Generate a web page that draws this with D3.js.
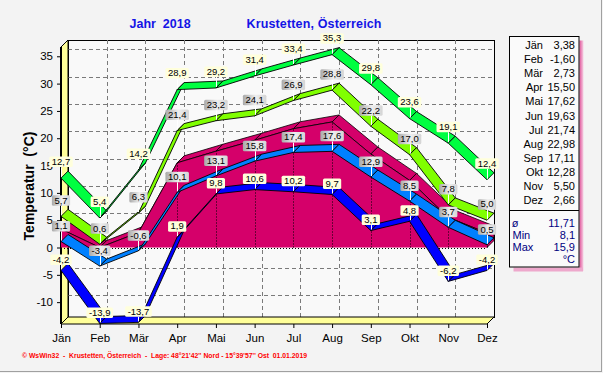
<!DOCTYPE html>
<html><head><meta charset="utf-8">
<script src="https://cdn.jsdelivr.net/npm/d3@7"></script>
<style>
body{margin:0;background:#f3f3f3}
svg{display:block;font-family:"Liberation Sans",Arial,sans-serif}
</style>
</head><body><svg id="c" width="603" height="373"></svg>
<script>
const months = ["Jän","Feb","Mär","Apr","Mai","Jun","Jul","Aug","Sep","Okt","Nov","Dez"];
const maxTemp  = [12.7,5.4,14.2,28.9,29.2,31.4,33.4,35.3,29.8,23.6,19.1,12.4];
const meanMax  = [5.7,0.6,6.3,21.4,23.2,24.1,26.9,28.8,22.2,17.0,7.8,5.0];
const meanTemp = [3.38,-1.60,2.73,15.50,17.62,19.63,21.74,22.98,17.11,12.28,5.50,2.66];
const meanMin  = [1.1,-3.4,-0.6,10.1,13.1,15.8,17.4,17.6,12.9,8.5,3.7,0.5];
const minTemp  = [-4.2,-13.9,-13.7,1.9,9.8,10.6,10.2,9.7,3.1,4.8,-6.2,-4.2];
const yTicks = [-10,-5,0,5,10,15,20,25,30,35];
const summaryLabels = ["ø","Min","Max"];
const summaryValues = ["11,71","8,1","15,9"];
const unitLabel = "°C";
const titleYear = "Jahr  2018";
const titlePlace = "Krustetten, Österreich";
const yTitle = "Temperatur  (°C)";
const footer = "© WsWin32  -  Krustetten, Österreich  -  Lage: 48°21'42'' Nord - 15°39'57'' Ost  01.01.2019";

const svg = d3.select("#c");
const DX = 7, DY = -7;
const X0 = 61, X1 = 487, YB = 324, YT = 47;
const x = d3.scalePoint().domain(months).range([X0, X1]);
const y = d3.scaleLinear().domain([-14, 36.7]).range([YB, YT]);
const fmt1 = v => v.toFixed(1).replace(".", ",");
const fmt2 = v => v.toFixed(2).replace(".", ",");

const defs = svg.append("defs");
const g1 = defs.append("linearGradient").attr("id","grayLab").attr("x1","0").attr("x2","1").attr("y1","0").attr("y2","0");
g1.append("stop").attr("offset","0").attr("stop-color","#a9a9a9");
g1.append("stop").attr("offset","0.55").attr("stop-color","#eeeeee");
g1.append("stop").attr("offset","1").attr("stop-color","#d4d4d4");
const g2 = defs.append("linearGradient").attr("id","shadowR").attr("x1","0").attr("x2","1");
g2.append("stop").attr("offset","0").attr("stop-color","#e0559a");
g2.append("stop").attr("offset","1").attr("stop-color","#f6d0e4");

svg.append("rect").attr("width",603).attr("height",373).attr("fill","#f3f3f3");
svg.append("line").attr("x1",601.5).attr("x2",601.5).attr("y1",0).attr("y2",372).attr("stroke","#a0a0a0");
svg.append("line").attr("x1",0).attr("x2",602).attr("y1",371.5).attr("y2",371.5).attr("stroke","#a0a0a0");

// back wall
svg.append("rect").attr("x",X0+DX+0.5).attr("y",YT+DY+0.5).attr("width",X1-X0).attr("height",YB-YT)
  .attr("fill","#f9f9f9").attr("stroke","#000");
// grid
const grid = svg.append("g").attr("stroke","#7a7a7a").attr("stroke-dasharray","4,3").attr("stroke-width",1);
grid.selectAll("line.h").data(yTicks).join("line")
  .attr("x1",X0+DX).attr("x2",X1+DX).attr("y1",d=>Math.round(y(d)+DY)+0.5).attr("y2",d=>Math.round(y(d)+DY)+0.5);
grid.selectAll("line.v").data(months.slice(1,-1)).join("line")
  .attr("y1",YT+DY).attr("y2",YB+DY).attr("x1",d=>Math.round(x(d)+DX)+0.5).attr("x2",d=>Math.round(x(d)+DX)+0.5);

// left wall and floor
const wallFill = "#ffff99";
svg.append("polygon").attr("points",[[X0,YT],[X0+DX,YT+DY],[X0+DX,YB+DY],[X0,YB]].join(" "))
  .attr("fill",wallFill).attr("stroke","#000");
svg.append("polygon").attr("points",[[X0,YB],[X0+DX,YB+DY],[X1+DX,YB+DY],[X1,YB]].join(" "))
  .attr("fill",wallFill).attr("stroke","#000");
svg.append("line").attr("x1",X0).attr("x2",X0).attr("y1",YT).attr("y2",YB).attr("stroke","#000").attr("stroke-width",2);

// y axis
const yAxis = d3.axisLeft(y).tickValues(yTicks).tickSize(4).tickPadding(4).tickFormat(d=>d);
const ya = svg.append("g").attr("transform",`translate(${X0},0)`).call(yAxis);
ya.select(".domain").remove();
ya.selectAll("text").attr("font-size",11.5).attr("font-family","Liberation Sans, Arial").attr("fill","#000");
// x axis
const xAxis = d3.axisBottom(x).tickSize(4).tickPadding(6);
const xa = svg.append("g").attr("transform",`translate(0,${YB})`).call(xAxis);
xa.select(".domain").remove();
xa.selectAll("text").attr("font-size",11.5).attr("font-family","Liberation Sans, Arial").attr("fill","#000");

// mean area (3D)
const magenta = "#d5006a";
const mPts = months.map((m,i)=>[x(m), y(Math.max(0, meanTemp[i]))]);
const y0 = y(0);
const area = svg.append("g");
for (let i=0;i<mPts.length-1;i++){
  const a=mPts[i], b=mPts[i+1];
  area.append("polygon").attr("points",[a,b,[b[0]+DX,b[1]+DY],[a[0]+DX,a[1]+DY]].join(" "))
    .attr("fill",magenta).attr("stroke","#000").attr("stroke-width",0.8);
}
const last = mPts[mPts.length-1];
area.append("polygon").attr("points",[[last[0],y0],last,[last[0]+DX,last[1]+DY],[last[0]+DX,y0+DY]].join(" "))
  .attr("fill",magenta).attr("stroke","#000").attr("stroke-width",0.8);
area.append("path").attr("d", d3.area().x(d=>d[0]).y0(y0).y1(d=>d[1])(mPts)).attr("fill",magenta);
area.append("path").attr("d", d3.line()(mPts)).attr("fill","none").attr("stroke","#000").attr("stroke-width",0.8);
area.selectAll("line.dv").data(mPts.slice(1)).join("line")
  .attr("x1",d=>Math.round(d[0])+0.5).attr("x2",d=>Math.round(d[0])+0.5).attr("y1",y0).attr("y2",d=>d[1])
  .attr("stroke","#000").attr("stroke-dasharray","1,2");
area.append("line").attr("x1",X0).attr("x2",X1).attr("y1",Math.round(y0)+0.5).attr("y2",Math.round(y0)+0.5)
  .attr("stroke","#000").attr("stroke-dasharray","1,2");

// ribbons
function ribbon(vals, color){
  const g = svg.append("g");
  const pts = months.map((m,i)=>[x(m), y(vals[i])]);
  for (let i=0;i<pts.length-1;i++){
    const a=pts[i], b=pts[i+1];
    g.append("polygon").attr("points",[a,b,[b[0]+DX,b[1]+DY],[a[0]+DX,a[1]+DY]].join(" "))
      .attr("fill",color).attr("stroke","#000").attr("stroke-width",0.9).attr("stroke-linejoin","round");
  }
}
ribbon(minTemp, "#0000ff");
ribbon(meanMin, "#0080ff");
ribbon(meanMax, "#80ff00");
ribbon(maxTemp, "#00ff40");

// value labels
const labG = svg.append("g");
function labels(vals, fill, off){
  vals.forEach((v,i)=>{
    const cx = x(months[i]), py = y(v);
    const bottom = py - off, h = 10.5;
    const g = labG.append("g");
    const t = g.append("text").attr("x",cx).attr("y",bottom-2.2).attr("text-anchor","middle")
      .attr("font-size",9.5).attr("fill","#000").text(fmt1(v));
    const w = t.node().getComputedTextLength()+5;
    g.insert("line","text").attr("x1",Math.round(cx)+0.5).attr("x2",Math.round(cx)+0.5)
      .attr("y1",bottom).attr("y2",py-1).attr("stroke","#fff").attr("stroke-width",1);
    g.insert("rect","text").attr("x",cx-w/2).attr("y",bottom-h).attr("width",w).attr("height",h)
      .attr("rx",1.5).attr("fill",fill);
  });
}
labels(minTemp, "#ffffdc", 5.5);
labels(meanMin, "url(#grayLab)", 10);
labels(meanMax, "url(#grayLab)", 10.5);
labels(maxTemp, "#ffffdc", 11);

// legend box
const LX=509.5, LY=36.5, LW=69.5, LH=230.5;
svg.append("rect").attr("x",LX+LW+0.5).attr("y",LY+4).attr("width",4).attr("height",LH).attr("fill","url(#shadowR)");
svg.append("rect").attr("x",LX+4).attr("y",LY+LH+0.5).attr("width",LW).attr("height",4).attr("fill","#eea8cc");
svg.append("rect").attr("x",LX).attr("y",LY).attr("width",LW).attr("height",LH).attr("fill","#fafafa").attr("stroke","#000");
svg.append("line").attr("x1",LX).attr("x2",LX+LW).attr("y1",210.5).attr("y2",210.5).attr("stroke","#000");
const lg = svg.append("g").attr("font-size",11).attr("fill","#000");
months.forEach((m,i)=>{
  const by = 49 + i*14.1;
  lg.append("text").attr("x",543).attr("y",by).attr("text-anchor","end").text(m);
  lg.append("text").attr("x",575).attr("y",by).attr("text-anchor","end").text(fmt2(meanTemp[i]));
});
const sg = svg.append("g").attr("font-size",11).attr("fill","#000080");
const sy = [227, 239.3, 251];
summaryLabels.forEach((l,i)=>{
  sg.append("text").attr("x", i===0?515:512.5).attr("y",sy[i]).attr("text-anchor", i===0?"middle":"start").text(l);
  sg.append("text").attr("x",575).attr("y",sy[i]).attr("text-anchor","end").text(summaryValues[i]);
});
sg.append("text").attr("x",575).attr("y",262.5).attr("text-anchor","end").text(unitLabel);

// titles
svg.append("text").attr("x",129.5).attr("y",28).attr("font-size",12.5).attr("font-weight","bold")
  .attr("fill","#1414e6").style("white-space","pre").text(titleYear);
svg.append("text").attr("x",246.5).attr("y",28).attr("font-size",12.5).attr("font-weight","bold")
  .attr("fill","#1414e6").attr("textLength",135).text(titlePlace);
svg.append("text").attr("transform","translate(33.5,186) rotate(-90)").attr("text-anchor","middle")
  .attr("font-size",14).attr("font-weight","bold").attr("fill","#000").style("white-space","pre").text(yTitle);
svg.append("text").attr("x",22).attr("y",358).attr("font-size",7.5).attr("font-weight","bold")
  .attr("fill","#ff0000").attr("textLength",285).attr("lengthAdjust","spacingAndGlyphs").style("white-space","pre").text(footer);
</script>
</body></html>
